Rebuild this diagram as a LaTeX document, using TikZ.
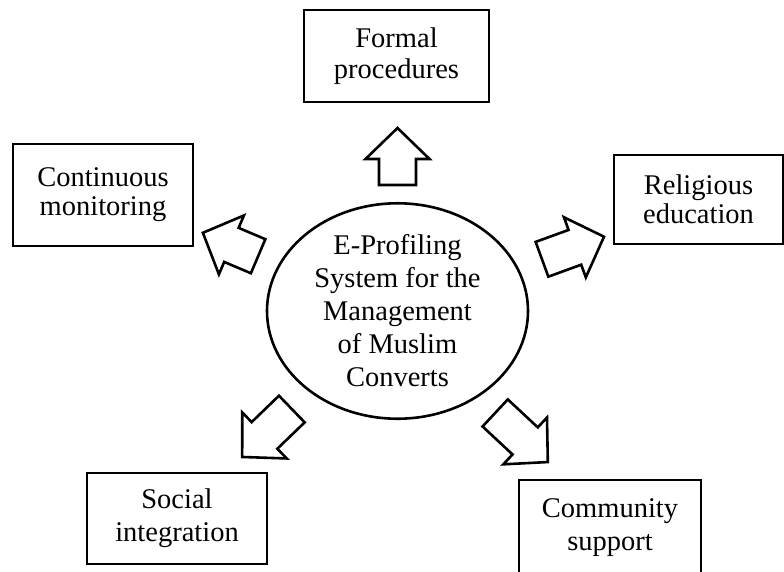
\documentclass[tikz,border=0pt]{standalone}
\usepackage{fontspec}
\setmainfont{Liberation Serif}
\usetikzlibrary{shapes.geometric}

\tikzset{
  box/.style={draw, line width=2.6pt, minimum height=92pt, inner sep=0pt, align=center,
    font=\fontsize{28.5}{33}\selectfont},
  hub/.style={draw, ellipse, line width=2.6pt, minimum width=261pt, minimum height=208pt,
    inner sep=0pt, align=center, font=\fontsize{28.5}{33}\selectfont},
  tight/.style={font=\fontsize{28.5}{29}\selectfont},
  % hollow block arrow, length #1, pointing along +x
  pics/fatarrow/.style={code={
    \draw[line width=2.6pt, line join=miter] (-#1/2,-18.5) -- (#1/2-31,-18.5) -- (#1/2-31,-32)
      -- (#1/2,0) -- (#1/2-31,32) -- (#1/2-31,18.5) -- (-#1/2,18.5) -- cycle;}}
}

\begin{document}
\begin{tikzpicture}[x=1pt, y=-1pt]
    \useasboundingbox (0,0) rectangle (784,571);

    \node[hub] (hub) at (397.5,311) {E-Profiling\\System for the\\Management\\of Muslim\\Converts};

    \node[box, minimum width=185pt, font=\fontsize{28.5}{31}\selectfont] (formal) at (396.5,56) {Formal\\procedures};
    \node[box, tight, minimum width=180pt, minimum height=102pt] (monitor) at (103,195) {Continuous\\monitoring};
    \node[box, tight, minimum width=169pt, minimum height=89pt] (religion) at (698.5,199.5) {Religious\\education};
    \node[box, minimum width=180pt, minimum height=91pt] (social) at (177,518.5) {Social\\integration};
    \node[box, minimum width=182pt, minimum height=95pt] (community) at (610,527.5) {Community\\support};

    % arrows from the hub outwards
    \pic[rotate=90]   at (397.5,156.5) {fatarrow=57};
    \pic[rotate=157]  at (230.5,244.5) {fatarrow=60};
    \pic[rotate=20]   at (573,248)     {fatarrow=66};
    \pic[rotate=-136] at (267,433)     {fatarrow=69};
    \pic[rotate=-43]  at (521.5,437.5) {fatarrow=72};
\end{tikzpicture}
\end{document}
